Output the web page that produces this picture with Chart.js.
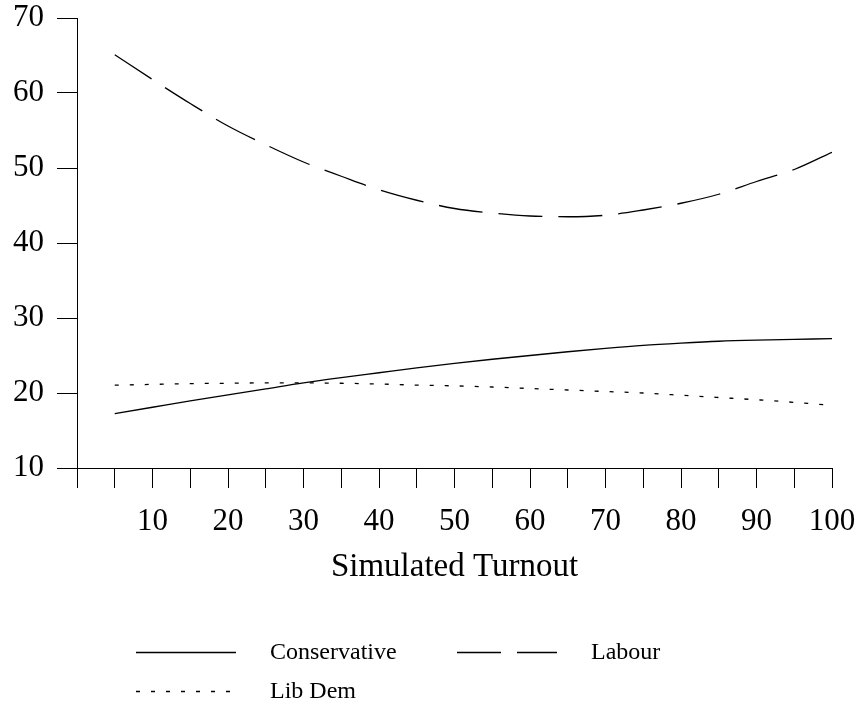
<!DOCTYPE html>
<html>
<head>
<meta charset="utf-8">
<script src="https://cdn.jsdelivr.net/npm/chart.js@4"></script>
<style>
  html, body { margin: 0; padding: 0; background: #fff; }
  #c { display: block; }
</style>
</head>
<body>
<canvas id="c" width="860" height="706"></canvas>
<script>
const turnout = [5, 10, 15, 20, 25, 30, 35, 40, 45, 50, 55, 60, 65, 70, 75, 80, 85, 90, 95, 100];
const conservative = [17.25, 18.1, 18.95, 19.75, 20.55, 21.35, 22.05, 22.7, 23.35, 23.95, 24.5, 25.0, 25.5, 25.95, 26.35, 26.65, 26.9, 27.05, 27.15, 27.25];
const labour = [65.1, 61.8, 58.6, 55.6, 53.1, 50.8, 48.9, 47.1, 45.7, 44.6, 44.0, 43.6, 43.5, 43.7, 44.4, 45.3, 46.5, 48.2, 49.8, 52.1];
const libDem = [21.05, 21.15, 21.25, 21.3, 21.35, 21.35, 21.3, 21.2, 21.05, 20.95, 20.8, 20.6, 20.4, 20.2, 20.0, 19.7, 19.4, 19.1, 18.75, 18.35];
const seriesNames = ['Conservative', 'Labour', 'Lib Dem'];
const xTitle = 'Simulated Turnout';

const pts = arr => turnout.map((t, i) => ({ x: t, y: arr[i] }));
const FONT = 'Liberation Serif, Times New Roman, serif';

const legendPlugin = {
  id: 'customLegend',
  afterDraw(chart) {
    const ctx = chart.ctx;
    const cols = [136, 457];
    const rows = [652, 691];
    ctx.save();
    chart.data.datasets.forEach((ds, i) => {
      const x = cols[i % 2];
      const y = rows[Math.floor(i / 2)];
      ctx.beginPath();
      ctx.setLineDash(ds.borderDash || []);
      ctx.lineWidth = ds.borderWidth;
      ctx.strokeStyle = ds.borderColor;
      ctx.moveTo(x, y + 0.5);
      ctx.lineTo(x + 100, y + 0.5);
      ctx.stroke();
      ctx.setLineDash([]);
      ctx.fillStyle = '#000';
      ctx.font = '24px ' + FONT;
      ctx.textBaseline = 'middle';
      ctx.textAlign = 'left';
      ctx.fillText(ds.label, x + 134, y + 1);
    });
    ctx.restore();
  }
};

const zeroPad = s => { s.paddingLeft = 0; s.paddingRight = 0; s.paddingTop = 0; s.paddingBottom = 0; };

new Chart(document.getElementById('c'), {
  type: 'line',
  data: {
    datasets: [
      { label: seriesNames[0], data: pts(conservative), borderColor: '#000', borderWidth: 1.3, pointRadius: 0, fill: false, cubicInterpolationMode: 'monotone' },
      { label: seriesNames[1], data: pts(labour), borderColor: '#000', borderWidth: 1.3, borderDash: [44, 16], pointRadius: 0, fill: false, cubicInterpolationMode: 'monotone' },
      { label: seriesNames[2], data: pts(libDem), borderColor: '#000', borderWidth: 1.3, borderDash: [4, 11], pointRadius: 0, fill: false, cubicInterpolationMode: 'monotone' }
    ]
  },
  options: {
    responsive: false,
    devicePixelRatio: 1,
    animation: false,
    layout: { padding: { left: 0, right: 28, top: 18, bottom: 119 } },
    plugins: { legend: { display: false }, tooltip: { enabled: false } },
    scales: {
      x: {
        type: 'linear',
        min: 0, max: 100,
        border: { display: true, color: '#000', width: 1 },
        grid: { drawOnChartArea: false, drawTicks: true, tickLength: 20, color: '#000', lineWidth: 1 },
        ticks: {
          stepSize: 5, autoSkip: false, maxRotation: 0, padding: 18,
          color: '#000', font: { family: FONT, size: 31, lineHeight: 1.0 },
          callback: v => (v > 0 && v % 10 === 0) ? String(v) : ''
        },
        title: { display: true, text: xTitle, color: '#000', font: { family: FONT, size: 33, lineHeight: 1.2 }, padding: 0 },
        afterFit: s => { s.height = 119; zeroPad(s); }
      },
      y: {
        min: 10, max: 70,
        border: { display: true, color: '#000', width: 1 },
        grid: { drawOnChartArea: false, drawTicks: true, tickLength: 20, color: '#000', lineWidth: 1 },
        ticks: { stepSize: 10, padding: 13, color: '#000', font: { family: FONT, size: 31, lineHeight: 1.0 } },
        afterFit: s => { s.width = 77; zeroPad(s); }
      }
    }
  },
  plugins: [legendPlugin]
});
</script>
</body>
</html>
